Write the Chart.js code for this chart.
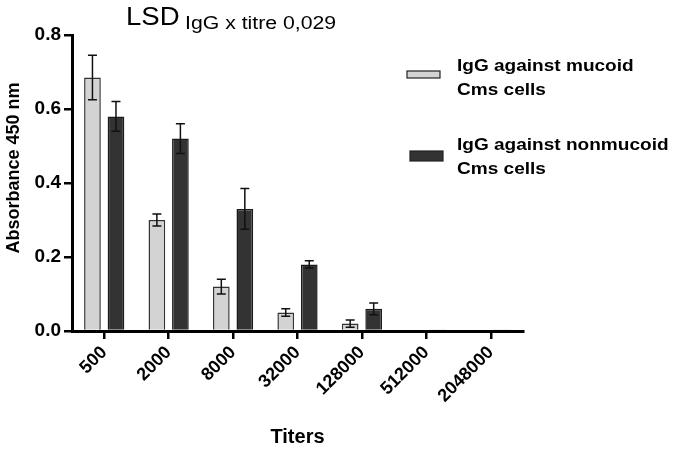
<!DOCTYPE html>
<html>
<head>
<meta charset="utf-8">
<script src="https://cdn.jsdelivr.net/npm/chart.js@4/dist/chart.umd.min.js"></script>
<style>
html,body{margin:0;padding:0;background:#fff}
#wrap{width:677px;height:450px}
</style>
</head>
<body>
<div id="wrap"><canvas id="chartCanvas"></canvas></div>
<script>
let titers=["500","2000","8000","32000","128000","512000","2048000"]
let mucoid=[0.685,0.30,0.12,0.05,0.02,0,0]
let mucoidErr=[0.06,0.016,0.02,0.01,0.01,0,0]
let nonmucoid=[0.58,0.52,0.33,0.18,0.06,0.003,0.003]
let nonmucoidErr=[0.04,0.04,0.055,0.01,0.016,0,0]
let yTicks=[0,0.2,0.4,0.6,0.8]

let font="'Liberation Sans', Arial, sans-serif"
let errors=[mucoidErr,nonmucoidErr]

let errorBars={
    id:"errorBars",
    afterDatasetsDraw(chart){
        let ctx=chart.ctx
        let y=chart.scales.y
        ctx.save()
        ctx.strokeStyle="#111"
        ctx.lineWidth=1.5
        chart.data.datasets.forEach((ds,i)=>{
            let meta=chart.getDatasetMeta(i)
            meta.data.forEach((bar,j)=>{
                let e=errors[i][j]
                if(!e) return
                let top=y.getPixelForValue(ds.data[j]+e)
                let bot=y.getPixelForValue(ds.data[j]-e)
                ctx.beginPath()
                ctx.moveTo(bar.x,top);ctx.lineTo(bar.x,bot)
                ctx.moveTo(bar.x-4.5,top);ctx.lineTo(bar.x+4.5,top)
                ctx.moveTo(bar.x-4.5,bot);ctx.lineTo(bar.x+4.5,bot)
                ctx.stroke()
            })
        })
        ctx.restore()
    }
}

// text in the reference is a bit wider than Liberation Sans, so stretch it
let stretched=(ctx,txt,x,y,f,sx)=>{
    ctx.save()
    ctx.translate(x,y)
    ctx.scale(sx,1)
    ctx.font=f
    ctx.fillText(txt,0,0)
    ctx.restore()
}

let extras={
    id:"extras",
    afterDraw(chart){
        let ctx=chart.ctx
        ctx.save()
        ctx.fillStyle="#000"
        ctx.textBaseline="alphabetic"
        ctx.textAlign="left"
        stretched(ctx,"LSD",126,25,"26px "+font,1.06)
        stretched(ctx,"IgG x titre 0,029",185,29,"18px "+font,1.18)

        // legend
        let items=[
            {box:[407,71,33,7],fill:"#d3d3d3",lines:["IgG against mucoid","Cms cells"],y:71},
            {box:[410,151,33,10],fill:"#333333",lines:["IgG against nonmucoid","Cms cells"],y:150}
        ]
        items.forEach(it=>{
            ctx.fillStyle=it.fill
            ctx.fillRect(...it.box)
            ctx.strokeStyle="#222"
            ctx.lineWidth=1.2
            ctx.strokeRect(...it.box)
            ctx.fillStyle="#000"
            stretched(ctx,it.lines[0],457,it.y,"bold 17px "+font,1.12)
            stretched(ctx,it.lines[1],457,it.y+24,"bold 17px "+font,1.12)
        })
        ctx.restore()
    }
}

new Chart(document.querySelector("#chartCanvas"),{
    type:"bar",
    data:{
        labels:titers,
        datasets:[
            {label:"IgG against mucoid Cms cells",data:mucoid,backgroundColor:"#d3d3d3",borderColor:"#333",borderWidth:1.5},
            {label:"IgG against nonmucoid Cms cells",data:nonmucoid,backgroundColor:"#333333",borderColor:"#1a1a1a",borderWidth:1.5}
        ]
    },
    options:{
        responsive:true,
        maintainAspectRatio:false,
        animation:false,
        devicePixelRatio:1,
        layout:{padding:{left:0,right:154,top:35,bottom:0}},
        categoryPercentage:0.73,
        barPercentage:0.71,
        plugins:{legend:{display:false},tooltip:{enabled:false}},
        scales:{
            x:{
                afterFit:s=>{s.height=119},
                grid:{display:true,drawOnChartArea:false,offset:false,tickLength:8,tickColor:"#000",lineWidth:2.5},
                border:{color:"#000",width:3},
                ticks:{color:"#000",font:{family:font,size:18,weight:"bold"},minRotation:45,maxRotation:45,padding:3},
                title:{display:true,text:"Titers",color:"#000",font:{family:font,size:20,weight:"bold"},padding:{top:0,bottom:1}}
            },
            y:{
                min:0,max:0.8,
                afterFit:s=>{s.width=72},
                afterBuildTicks:s=>{s.ticks=yTicks.map(v=>({value:v}))},
                grid:{display:true,drawOnChartArea:false,tickLength:8,tickColor:"#000",lineWidth:2.5},
                border:{color:"#000",width:3},
                ticks:{color:"#000",font:{family:font,size:19,weight:"bold"},padding:3,callback:v=>v.toFixed(1)},
                title:{display:true,text:"      Absorbance 450 nm",color:"#000",font:{family:font,size:18,weight:"bold"},padding:3}
            }
        }
    },
    plugins:[errorBars,extras]
})
</script>
</body>
</html>
